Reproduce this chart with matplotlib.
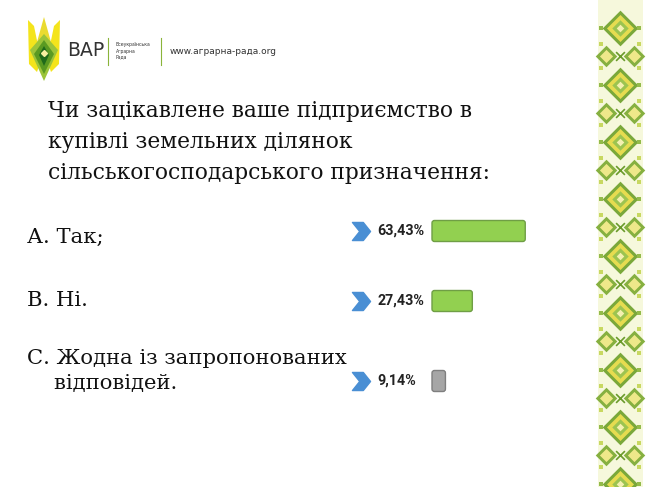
import matplotlib.pyplot as plt
import numpy as np
from matplotlib.path import Path
from matplotlib.patches import Polygon, FancyBboxPatch

question = ["Чи зацікавлене ваше підприємство в",
            "купівлі земельних ділянок",
            "сільськогосподарського призначення:"]
answers = ["А. Так;", "В. Ні.", "С. Жодна із запропонованих\n    відповідей."]
shares = [63.43, 27.43, 9.14]
labels = ["63,43%", "27,43%", "9,14%"]
bar_colors = ["#92d050", "#92d050", "#a6a6a6"]
edge_colors = ["#6f9e45", "#6f9e45", "#7f7f7f"]

fig = plt.figure(figsize=(6.5, 4.87), dpi=100)
bg = fig.add_axes([0, 0, 1, 1])
bg.set_xlim(0, 650)
bg.set_ylim(487, 0)
bg.axis("off")

# logo
crown = [
    ([28, 34, 41, 37, 29], [20, 26, 60, 72, 64], "#f4e41c"),
    ([60, 54, 47, 51, 59], [20, 26, 60, 72, 64], "#f4e41c"),
    ([44, 37, 44, 51], [17, 42, 58, 42], "#eadb30"),
    ([30, 44, 58, 44], [50, 34, 50, 81], "#9cc43a"),
    ([34, 44, 54, 44], [54, 40, 54, 74], "#5a9a22"),
    ([39, 44, 49, 44], [55, 46, 55, 66], "#1f6a1a"),
]
for xs, ys, c in crown:
    bg.add_patch(Polygon(np.column_stack([xs, ys]), closed=True, color=c, lw=0))
bg.plot([44], [53], marker="D", ms=3, color="#f7f0a0")
bg.text(67, 51, "ВАР", fontsize=13.5, family="DejaVu Sans", color="#333333",
        va="center", ha="left")
bg.plot([108, 108], [38, 65], color="#8ab43a", lw=0.8)
bg.text(116, 51, "Всеукраїнська\nАграрна\nРада", fontsize=3.3, color="#333333",
        va="center", ha="left", linespacing=1.3)
bg.plot([161, 161], [38, 65], color="#8ab43a", lw=0.8)
bg.text(170, 52, "www.аграрна-рада.org", fontsize=6.5, color="#333333",
        va="center", ha="left")

# ornament strip
bg.add_patch(Polygon([[598, 0], [643, 0], [643, 487], [598, 487]], closed=True,
                     color="#f6f8dc", lw=0))
cy = np.arange(28, 487, 57)
bg.scatter(np.full(len(cy), 620), cy, marker="D", s=330, color="#7aa83a", lw=0)
bg.scatter(np.full(len(cy), 620), cy, marker="D", s=190, color="#e6dc50", lw=0)
bg.scatter(np.full(len(cy), 620), cy, marker="D", s=70, color="#9cc450", lw=0)
bg.scatter(np.full(len(cy), 620), cy, marker="D", s=15, color="#f4f0b0", lw=0)
sy = cy + 28
for sx in (606, 634):
    bg.scatter(np.full(len(sy), sx), sy, marker="D", s=120, color="#86b040", lw=0)
    bg.scatter(np.full(len(sy), sx), sy, marker="D", s=45, color="#eee88a", lw=0)
for sx in (601, 639):
    bg.scatter(np.full(len(cy), sx), cy, marker="s", s=8, color="#93bb4a", lw=0)
    bg.scatter(np.full(len(sy), sx), sy - 12, marker="s", s=6, color="#c8d860", lw=0)
    bg.scatter(np.full(len(sy), sx), sy + 12, marker="s", s=6, color="#c8d860", lw=0)
bg.scatter(np.full(len(sy), 620), sy, marker="x", s=40, color="#6a9a2a", lw=1.2)

# question and answers
for i, line in enumerate(question):
    bg.text(48, 111 + i * 31, line, fontsize=15.7, family="DejaVu Serif",
            color="#111111", va="center", ha="left")
answer_y = [237, 300, 371]
for y, a in zip(answer_y, answers):
    bg.text(27, y, a, fontsize=15.2, family="DejaVu Serif", color="#111111",
            va="center", ha="left", linespacing=1.4)

# bars
bar_y = [231, 301, 381]
ax = fig.add_axes([432 / 650, 0, 147 / 650, 1])
ax.set_xlim(0, 100)
ax.set_ylim(487, 0)
ax.axis("off")
bars = ax.barh(bar_y, shares, height=21, color=bar_colors, edgecolor=edge_colors, lw=1)

# round the bar corners: redraw each bar in pixel space
fig.canvas.draw()
to_px = bg.transData.inverted()
for rect in bars:
    (x0, y0), (x1, y1) = to_px.transform(rect.get_window_extent().get_points())
    ya, yb = min(y0, y1), max(y0, y1)
    pad = 2.5
    bg.add_patch(FancyBboxPatch((x0 + pad, ya + pad), x1 - x0 - 2 * pad, yb - ya - 2 * pad,
                                boxstyle="round,pad=%g" % pad,
                                fc=rect.get_facecolor(), ec=rect.get_edgecolor(), lw=1))
    rect.set_visible(False)

chevron = Path([(-1, 1), (0.2, 1), (1, 0), (0.2, -1), (-1, -1), (-0.2, 0), (-1, 1)],
               [Path.MOVETO] + [Path.LINETO] * 5 + [Path.CLOSEPOLY])
for y, lab in zip(bar_y, labels):
    bg.plot([361], [y], marker=chevron, ms=13, color="#4a8fd4", lw=0)
    bg.text(377, y, lab, fontsize=10.3, family="Roboto", weight="bold",
            color="#222222", va="center", ha="left")

fig.savefig("out.png", dpi=100, facecolor="white")
